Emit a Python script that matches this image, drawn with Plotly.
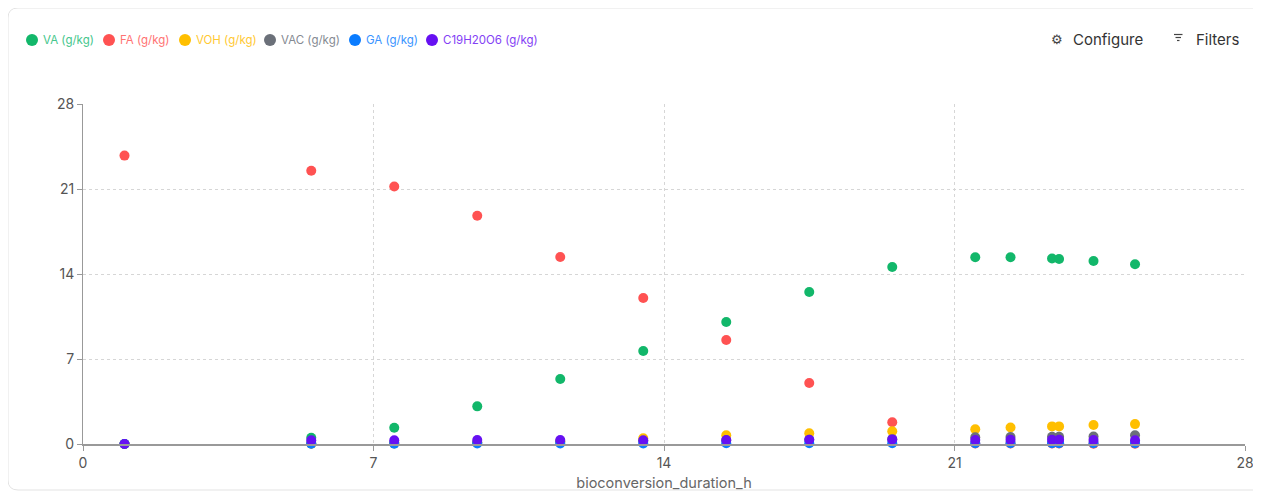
import plotly.graph_objects as go

duration_h = [1, 5.5, 7.5, 9.5, 11.5, 13.5, 15.5, 17.5, 19.5, 21.5, 22.35, 23.35, 23.52, 24.35, 25.35]
va = [0, 0.52, 1.34, 3.1, 5.35, 7.66, 10.05, 12.52, 14.58, 15.38, 15.38, 15.27, 15.24, 15.07, 14.8]
fa = [23.75, 22.5, 21.2, 18.8, 15.4, 12.03, 8.57, 5.02, 1.79, 0.05, 0.05, 0.04, 0.04, 0.03, 0.03]
voh = [0, 0.02, 0.05, 0.1, 0.2, 0.48, 0.72, 0.88, 1.05, 1.22, 1.36, 1.45, 1.45, 1.56, 1.64]
vac = [0, 0.05, 0.1, 0.15, 0.2, 0.25, 0.3, 0.35, 0.4, 0.55, 0.58, 0.6, 0.6, 0.62, 0.72]
ga = [0, 0.02, 0.03, 0.04, 0.05, 0.05, 0.06, 0.06, 0.07, 0.07, 0.07, 0.07, 0.07, 0.07, 0.07]
c19 = [0, 0.3, 0.3, 0.32, 0.33, 0.3, 0.32, 0.35, 0.38, 0.32, 0.35, 0.35, 0.35, 0.32, 0.3]

series_names = ["VA (g/kg)", "FA (g/kg)", "VOH (g/kg)", "VAC (g/kg)", "GA (g/kg)", "C19H20O6 (g/kg)"]
series_values = [va, fa, voh, vac, ga, c19]
x_ticks = [0, 7, 14, 21, 28]
y_ticks = [0, 7, 14, 21, 28]

colors = ["#12b76a", "#ff5252", "#ffbf00", "#6b7079", "#0a7cff", "#6610f2"]
text_colors = ["#45c68c", "#ff7373", "#ffc933", "#858a92", "#3a94ff", "#843ff5"]
legend_marker_x = [32, 109, 185, 270, 355, 432]  # page pixels

# The page body has an 8px margin; work in page pixels and shift.
OFF = 8
W, H = 1261 - OFF, 493 - OFF
L, R, T, B = 83 - OFF, 16, 104 - OFF, 49
pw, ph = W - L - R, H - T - B


def px(x):
    return (x - OFF - L) / pw


def py(y):
    return (H - B - (y - OFF)) / ph


fig = go.Figure()
for name, vals, c in zip(series_names, series_values, colors):
    fig.add_trace(go.Scatter(
        x=duration_h, y=vals, mode="markers", name=name,
        marker=dict(size=10, color=c), cliponaxis=False,
    ))

# rounded card border (page pixels)
x0, x1, y0, y1, r = 8, 1266, 8, 490, 10
path = (f"M {px(x0+r)},{py(y0)} L {px(x1-r)},{py(y0)} Q {px(x1)},{py(y0)} {px(x1)},{py(y0+r)} "
        f"L {px(x1)},{py(y1-r)} Q {px(x1)},{py(y1)} {px(x1-r)},{py(y1)} "
        f"L {px(x0+r)},{py(y1)} Q {px(x0)},{py(y1)} {px(x0)},{py(y1-r)} "
        f"L {px(x0)},{py(y0+r)} Q {px(x0)},{py(y0)} {px(x0+r)},{py(y0)} Z")

shapes = [dict(type="path", xref="paper", yref="paper", path=path,
               line=dict(color="#e3e3e3", width=1), layer="below")]
annotations = []
for name, c, tc, mx in zip(series_names, colors, text_colors, legend_marker_x):
    shapes.append(dict(type="circle", xref="paper", yref="paper",
                       xsizemode="pixel", ysizemode="pixel",
                       xanchor=px(mx), yanchor=py(40), x0=-6, x1=6, y0=-6, y1=6,
                       fillcolor=c, line=dict(width=0)))
    annotations.append(dict(text=name, xref="paper", yref="paper", x=px(mx + 9), y=py(40),
                            xanchor="left", yanchor="middle", showarrow=False,
                            font=dict(size=11.5, color=tc)))

# filter icon: three lines of decreasing length
for (lx0, lx1, ly) in [(1174, 1182.5, 34.5), (1175.5, 1181, 37.5), (1177, 1179.5, 40.5)]:
    shapes.append(dict(type="line", xref="paper", yref="paper",
                       x0=px(lx0), x1=px(lx1), y0=py(ly), y1=py(ly),
                       line=dict(color="#444", width=1.2)))

annotations += [
    dict(text="⚙", xref="paper", yref="paper", x=px(1056.5), y=py(38.5),
         xanchor="center", yanchor="middle", showarrow=False,
         font=dict(size=13, color="#444")),
    dict(text="Configure", xref="paper", yref="paper", x=px(1071), y=py(39),
         xanchor="left", yanchor="middle", showarrow=False,
         font=dict(size=15, color="#333")),
    dict(text="Filters", xref="paper", yref="paper", x=px(1194), y=py(39),
         xanchor="left", yanchor="middle", showarrow=False,
         font=dict(size=15, color="#333")),
]

fig.update_layout(
    width=W, height=H,
    margin=dict(l=L, r=R, t=T, b=B, autoexpand=False),
    paper_bgcolor="white", plot_bgcolor="white",
    font=dict(family="Inter, Roboto, sans-serif", color="#555"),
    showlegend=False,
    xaxis=dict(range=[0, 28], tickvals=x_ticks, showgrid=True, gridcolor="#d6d6d6",
               griddash="dot", showline=True, linecolor="#999", linewidth=2,
               ticks="outside", ticklen=5, tickcolor="#999", zeroline=False,
               automargin=False, tickfont=dict(size=14, color="#555"),
               title=dict(text="bioconversion_duration_h",
                          font=dict(size=14.5, color="#666"), standoff=8)),
    yaxis=dict(range=[0, 28], tickvals=y_ticks, showgrid=True, gridcolor="#d6d6d6",
               griddash="dot", showline=True, linecolor="#999", linewidth=1,
               ticks="outside", ticklen=5, tickcolor="#999", zeroline=False,
               automargin=False, tickfont=dict(size=14, color="#555")),
    shapes=shapes,
    annotations=annotations,
)

fig.write_html("out.html")
